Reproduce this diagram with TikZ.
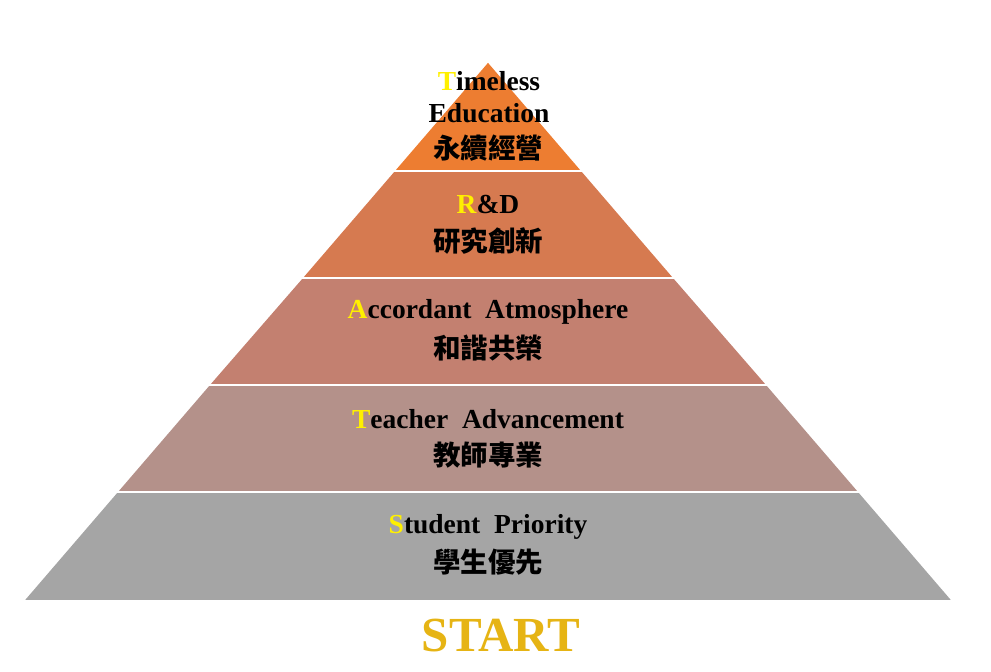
\documentclass[tikz,border=0pt]{standalone}
\usepackage{fontspec}
\setmainfont{Liberation Serif}
\newfontfamily\cjk{Noto Sans CJK TC}
\usepackage{tikz}

\definecolor{bandone}{RGB}{237,125,49}
\definecolor{bandtwo}{RGB}{214,122,80}
\definecolor{bandthree}{RGB}{195,128,112}
\definecolor{bandfour}{RGB}{180,145,138}
\definecolor{bandfive}{RGB}{165,165,165}
\definecolor{initial}{RGB}{255,240,0}
\definecolor{startgold}{RGB}{230,180,20}

\newcommand{\initial}[1]{\textcolor{initial}{#1}}

\tikzset{
	band/.style={draw=white, line width=1.5pt},
	eng/.style={font=\fontsize{27.5}{32}\selectfont\bfseries, align=center},
	chi/.style={font=\fontsize{27.5}{32}\selectfont\cjk\bfseries}
}

\begin{document}
\begin{tikzpicture}[x=1pt, y=-1pt]
	\useasboundingbox (0, 0) rectangle (991, 672);

	% bands, bottom to top
	\fill[band, bandfive]	(27, 599) -- (949, 599) -- (857, 492) -- (119, 492) -- cycle;
	\fill[band, bandfour]	(119, 492) -- (857, 492) -- (765, 385) -- (211, 385) -- cycle;
	\fill[band, bandthree]	(211, 385) -- (765, 385) -- (672, 278) -- (304, 278) -- cycle;
	\fill[band, bandtwo]	(304, 278) -- (672, 278) -- (580, 171) -- (396, 171) -- cycle;
	\fill[band, bandone]	(396, 171) -- (580, 171) -- (488, 64) -- cycle;

	% gaps between bands
	\draw[white, line width=2pt]	(100, 492) to (876, 492)
									(190, 385) to (786, 385)
									(280, 278) to (696, 278)
									(370, 171) to (606, 171);

	% labels
	\node[eng] (timeless) at (489, 97) {\initial{T}imeless\\Education};
	\node[chi] (timelessz) at (488, 148) {永續經營};

	\node[eng] (rd) at (488, 204) {\initial{R}\&D};
	\node[chi] (rdz) at (488, 241) {研究創新};

	\node[eng] (accord) at (488, 312) {\initial{A}ccordant\ \ Atmosphere};
	\node[chi] (accordz) at (488, 348) {和諧共榮};

	\node[eng] (teacher) at (488, 419) {\initial{T}eacher\ \ Advancement};
	\node[chi] (teacherz) at (488, 455) {教師專業};

	\node[eng] (student) at (488, 527) {\initial{S}tudent\ \ Priority};
	\node[chi] (studentz) at (488, 562) {學生優先};

	\node[font=\fontsize{49}{52}\selectfont\bfseries, text=startgold] (start) at (501, 636) {START};
\end{tikzpicture}
\end{document}
